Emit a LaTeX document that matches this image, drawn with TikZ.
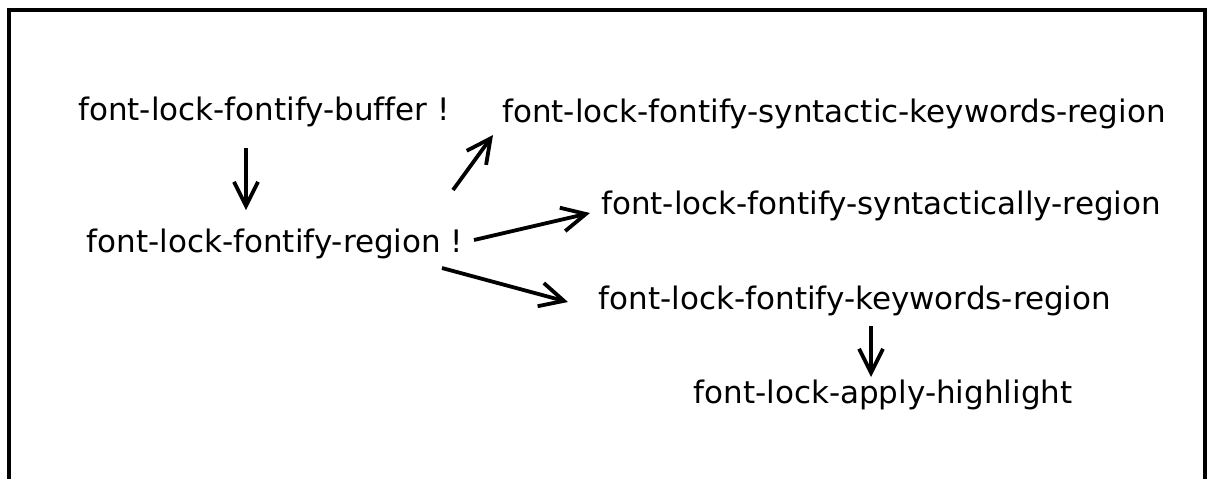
\documentclass[tikz,border=0pt]{standalone}
\usepackage{fontspec}
\setmainfont{DejaVu Sans}[Ligatures=NoCommon]
\usetikzlibrary{arrows.meta,calc}
\begin{document}
\begin{tikzpicture}[x=0.5pt,y=-0.5pt,
  lbl/.style={inner sep=0pt,font=\fontsize{15.5}{18}\selectfont},
  arr/.style={line width=1.9pt,-{Straight Barb[length=12pt,width=12pt,line width=1.9pt]}}]
\useasboundingbox (0,0) rectangle (1209,478);
\draw[line width=2pt] (9,480) -- (9,10) -- (1205,10) -- (1205,480);
\node[lbl] (buffer) at (264,112) {font-lock-fontify-buffer !};
\node[lbl] (region) at (275,244) {font-lock-fontify-region !};
\node[lbl] (synkw) at (834,114) {font-lock-fontify-syntactic-keywords-region};
\node[lbl] (syntactically) at (881,206) {font-lock-fontify-syntactically-region};
\node[lbl] (keywords) at (855,301) {font-lock-fontify-keywords-region};
\node[lbl] (apply) at (883,395) {font-lock-apply-highlight};
\draw[arr] ($(buffer.center)+(-18,36)$) -- ($(region.center)+(-29,-34)$);
\draw[arr] ($(region.center)+(178,-54)$) -- ($(synkw.center)+(-341,21)$);
\draw[arr] ($(region.center)+(199,-4)$) -- ($(syntactically.center)+(-291,7)$);
\draw[arr] ($(region.center)+(167,24)$) -- ($(keywords.center)+(-287,1)$);
\draw[arr] ($(keywords.center)+(16,25)$) -- ($(apply.center)+(-12,-18)$);
\end{tikzpicture}
\end{document}
